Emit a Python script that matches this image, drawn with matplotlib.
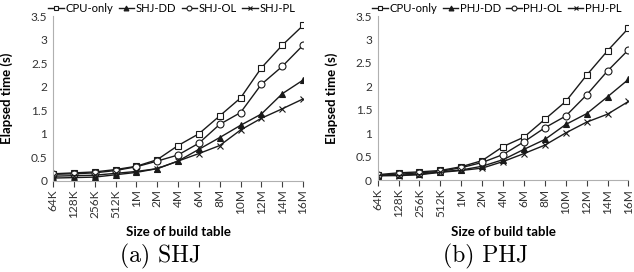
import numpy as np
import matplotlib
matplotlib.use("Agg")
import matplotlib.pyplot as plt

sizes = ["64K", "128K", "256K", "512K", "1M", "2M", "4M", "6M", "8M", "10M", "12M", "14M", "16M"]

# (a) SHJ
shj_cpu = [0.15, 0.17, 0.19, 0.24, 0.31, 0.45, 0.75, 1.00, 1.38, 1.76, 2.40, 2.88, 3.30]
shj_dd = [0.06, 0.07, 0.08, 0.13, 0.18, 0.26, 0.42, 0.67, 0.92, 1.18, 1.42, 1.85, 2.14]
shj_ol = [0.14, 0.15, 0.17, 0.22, 0.30, 0.42, 0.55, 0.80, 1.20, 1.45, 2.05, 2.43, 2.88]
shj_pl = [0.10, 0.11, 0.12, 0.16, 0.20, 0.26, 0.42, 0.58, 0.75, 1.08, 1.33, 1.53, 1.74]

# (b) PHJ
phj_cpu = [0.12, 0.16, 0.18, 0.21, 0.29, 0.42, 0.72, 0.92, 1.30, 1.68, 2.24, 2.76, 3.24]
phj_dd = [0.10, 0.11, 0.13, 0.18, 0.22, 0.30, 0.44, 0.66, 0.87, 1.19, 1.42, 1.78, 2.15]
phj_ol = [0.11, 0.13, 0.16, 0.19, 0.27, 0.38, 0.55, 0.82, 1.12, 1.37, 1.82, 2.33, 2.78]
phj_pl = [0.10, 0.10, 0.12, 0.17, 0.21, 0.26, 0.40, 0.57, 0.75, 1.01, 1.24, 1.41, 1.68]

plt.rcParams['font.family'] = ['Lato', 'DejaVu Sans']

LINE = '#1a1a1a'
styles = [
    dict(marker='s', mfc='white', ms=5),
    dict(marker='^', mfc=LINE, ms=5),
    dict(marker='o', mfc='white', ms=5),
    dict(marker='x', mfc=LINE, ms=4.5),
]


def draw_panel(ax, series, labels, caption):
    x = np.arange(len(sizes))
    for vals, lab, st in zip(series, labels, styles):
        ax.plot(x, vals, color=LINE, lw=1.0, mec=LINE, mew=0.8, label=lab, **st)
    ax.set_xlim(0, len(sizes) - 1)
    ax.set_ylim(0, 3.5)
    ax.set_yticks(np.arange(0, 3.51, 0.5))
    ax.set_yticklabels(['0', '0.5', '1', '1.5', '2', '2.5', '3', '3.5'])
    ax.set_xticks(x)
    ax.set_xticklabels(sizes, rotation=90)
    ax.tick_params(axis='both', labelsize=8.6, colors='#404040', labelcolor='#333333')
    ax.tick_params(axis='y', length=0, pad=4)
    ax.tick_params(axis='x', length=4, width=0.8, pad=2)
    for s in ['top', 'right']:
        ax.spines[s].set_visible(False)
    for s in ['left', 'bottom']:
        ax.spines[s].set_color('#b0b0b0')
        ax.spines[s].set_linewidth(0.8)
    ax.set_ylabel('Elapsed time (s)', fontsize=9.5, fontweight='bold')
    ax.yaxis.set_label_coords(-0.16, 0.5)
    ax.set_xlabel('Size of build table', fontsize=9.5, fontweight='bold')
    ax.xaxis.set_label_coords(0.5, -0.275)
    ax.legend(loc='lower center', bbox_to_anchor=(0.475, 1.015), ncol=4, frameon=False,
              fontsize=8.1, handlelength=1.4, handletextpad=0.1, columnspacing=0.5,
              markerscale=0.7, borderaxespad=0, borderpad=0)
    ax.text(0.43, -0.385, caption, transform=ax.transAxes, ha='center', va='top',
            fontsize=17, family='cmr10')


fig = plt.figure(figsize=(6.34, 2.72), dpi=100)
ax1 = fig.add_axes([0.0836, 0.335, 0.3944, 0.606])
ax2 = fig.add_axes([0.5957, 0.337, 0.3955, 0.604])

draw_panel(ax1, [shj_cpu, shj_dd, shj_ol, shj_pl],
           ['CPU-only', 'SHJ-DD', 'SHJ-OL', 'SHJ-PL'], '(a) SHJ')
draw_panel(ax2, [phj_cpu, phj_dd, phj_ol, phj_pl],
           ['CPU-only', 'PHJ-DD', 'PHJ-OL', 'PHJ-PL'], '(b) PHJ')

fig.savefig('out.png', dpi=100)
